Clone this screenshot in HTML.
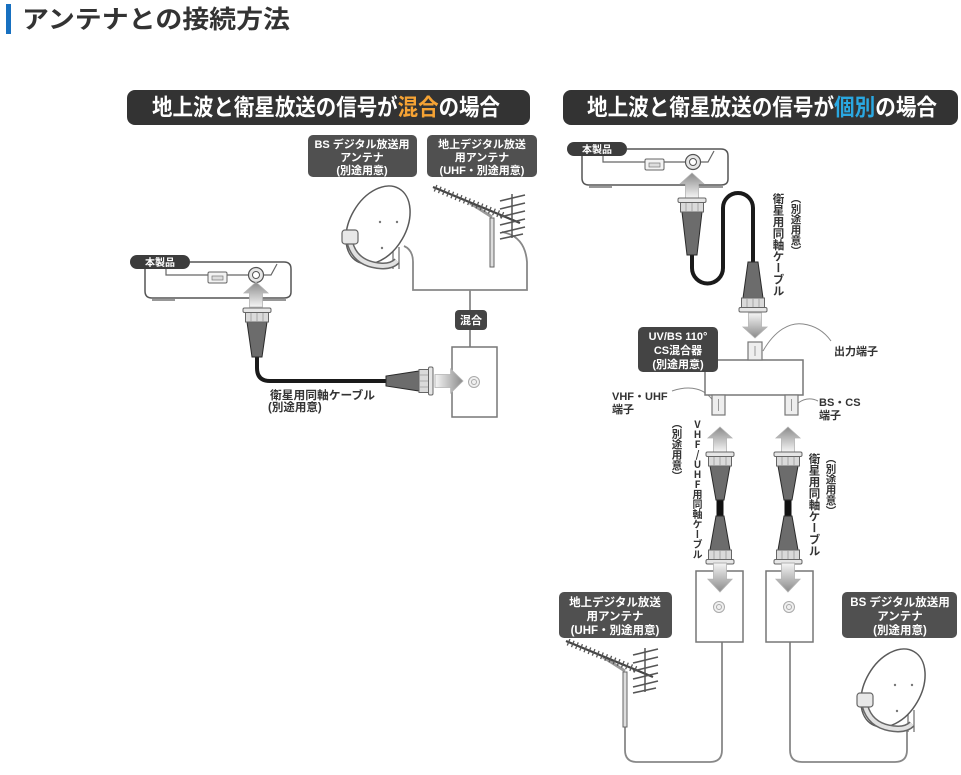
<!DOCTYPE html>
<html><head><meta charset="utf-8">
<style>
html,body{margin:0;padding:0;background:#fff}
body{width:961px;height:775px;overflow:hidden;position:relative;font-family:"Liberation Sans","Noto Sans CJK JP",sans-serif}
svg{position:absolute;left:0;top:0}
svg text{font-family:"Liberation Sans","Noto Sans CJK JP",sans-serif;font-weight:bold}
.v{position:absolute;writing-mode:vertical-rl;font-family:"Noto Sans CJK JP","Liberation Sans",sans-serif;font-weight:bold;color:#333;line-height:1;white-space:nowrap}
.up{text-orientation:upright}
</style></head><body>
<svg width="961" height="775" viewBox="0 0 961 775" xmlns="http://www.w3.org/2000/svg">
<defs>
<linearGradient id="ag" x1="0" y1="0" x2="0" y2="1">
<stop offset="0" stop-color="#8a8a8a"/><stop offset="1" stop-color="#f5f5f5"/>
</linearGradient>
<path id="arr" d="M0,0 L12,11 L6.5,11 L6.5,25 L-6.5,25 L-6.5,11 L-12,11 Z" fill="url(#ag)" stroke="#b3b3b3" stroke-width="0.8"/>
<g id="nut">
<rect x="-14" y="0" width="28" height="4.5" rx="1.5" fill="#e6e6e6" stroke="#666" stroke-width="1"/>
<rect x="-11.5" y="4.5" width="23" height="9.5" fill="#dadada" stroke="#666" stroke-width="1"/>
<path d="M-6,5 V14 M0,5 V14 M6,5 V14" stroke="#9a9a9a" stroke-width="0.8"/>
</g>
<g id="dish">
<path d="M15,24 V44 M21,22 V44" stroke="#777" stroke-width="1.3"/>
<ellipse cx="0" cy="0" rx="28" ry="42" transform="rotate(30)" fill="#fff" stroke="#5a5a5a" stroke-width="1.5"/>
<circle cx="2" cy="-3" r="1.2" fill="#777"/>
<circle cx="19" cy="-3" r="1.2" fill="#777"/>
<circle cx="4" cy="23" r="1.2" fill="#777"/>
<path d="M-28,18 Q-22,40 5,41 Q14,41 19,36" stroke="#666" stroke-width="7" fill="none"/>
<path d="M-28,18 Q-22,40 5,41 Q14,41 19,36" stroke="#e2e2e2" stroke-width="4" fill="none"/>
<rect x="-36" y="5" width="16" height="14" rx="3" fill="#e8e8e8" stroke="#666" stroke-width="1.2"/>
</g>
<g id="yagi">
<line x1="-22" y1="-15" x2="0" y2="-1" stroke="#999" stroke-width="3"/>
<line x1="-59" y1="-31" x2="28" y2="5" stroke="#444" stroke-width="2.2"/>
<line x1="-57" y1="-30" x2="12" y2="-2" stroke="#555" stroke-width="7" stroke-dasharray="1.3 3.2"/>
<line x1="20" y1="-24" x2="20" y2="20" stroke="#555" stroke-width="1.5"/>
<path d="M8,-17 L33,-23 M8,-9 L33,-15 M8,-1 L33,-7 M8,7 L33,1 M8,15 L33,9 M8,21 L31,16" stroke="#555" stroke-width="1.6"/>
</g>
<g id="dev">
<path d="M190,262 L284,262 Q291,262 291,269 L291,292 Q291,298 284,298 L152,298 Q145,298 145,291 L145,266" fill="#fff" stroke="#555" stroke-width="1.5"/>
<path d="M152,300 L175,300 M262,300 L286,300" stroke="#777" stroke-width="1.5"/>
<path d="M166,264 L166,275 L271,275 L277,264" fill="none" stroke="#666" stroke-width="1.2"/>
<rect x="208" y="272" width="19" height="11" rx="1.5" fill="#f3f3f3" stroke="#666" stroke-width="1"/>
<rect x="212" y="276" width="11" height="4" fill="#ddd" stroke="#777" stroke-width="0.7"/>
<circle cx="256" cy="275" r="7.5" fill="#e6e6e6" stroke="#555" stroke-width="1.2"/>
<circle cx="256" cy="275" r="3.5" fill="#fff" stroke="#555" stroke-width="1"/>
<rect x="130" y="255" width="60" height="14" rx="7" fill="#3c3c3c"/>
<text x="160" y="266" font-size="10" fill="#fff" text-anchor="middle">本製品</text>
</g>
</defs>

<!-- Title -->
<rect x="6" y="4" width="5" height="30" fill="#1770c0"/>
<text x="22" y="28" font-size="25" fill="#333" textLength="268" lengthAdjust="spacingAndGlyphs">アンテナとの接続方法</text>

<!-- Banners -->
<rect x="127" y="90" width="403" height="35" rx="8" fill="#333"/>
<text x="152" y="115" font-size="23" fill="#fff" textLength="348" lengthAdjust="spacingAndGlyphs">地上波と衛星放送の信号が<tspan fill="#f6a334">混合</tspan>の場合</text>
<rect x="563" y="90" width="395" height="35" rx="8" fill="#333"/>
<text x="587" y="115" font-size="23" fill="#fff" textLength="350" lengthAdjust="spacingAndGlyphs">地上波と衛星放送の信号が<tspan fill="#2aa8e2">個別</tspan>の場合</text>

<!-- LEFT DIAGRAM -->
<rect x="308" y="135" width="109" height="42" rx="5" fill="#505050"/>
<text x="362" y="148" font-size="11" fill="#fff" text-anchor="middle">BS デジタル放送用</text>
<text x="362" y="161" font-size="11" fill="#fff" text-anchor="middle">アンテナ</text>
<text x="362" y="174" font-size="11" fill="#fff" text-anchor="middle">(別途用意)</text>
<rect x="427" y="135" width="110" height="42" rx="5" fill="#505050"/>
<text x="482" y="148" font-size="11" fill="#fff" text-anchor="middle">地上デジタル放送</text>
<text x="482" y="161" font-size="11" fill="#fff" text-anchor="middle">用アンテナ</text>
<text x="482" y="174" font-size="11" fill="#fff" text-anchor="middle">(UHF・別途用意)</text>

<path d="M404,246 Q413,250 413,262 L413,290 L527,290 L527,262 Q525,236 502,232" fill="none" stroke="#888" stroke-width="1.8"/>
<use href="#dish" transform="translate(378,225)"/>
<use href="#yagi" transform="translate(492,218)"/>
<rect x="490" y="218" width="4" height="49" fill="#ddd" stroke="#666" stroke-width="1"/>

<path d="M470,290 V310 M470,330 V347" stroke="#888" stroke-width="1.8"/>
<rect x="455" y="310" width="32" height="20" rx="4" fill="#444"/>
<text x="471" y="324" font-size="11" fill="#fff" text-anchor="middle">混合</text>

<rect x="452" y="347" width="45" height="70" fill="#fff" stroke="#777" stroke-width="1.5"/>
<circle cx="474" cy="382" r="5.5" fill="#f0f0f0" stroke="#aaa" stroke-width="1"/>
<circle cx="474" cy="382" r="2.5" fill="none" stroke="#aaa" stroke-width="1"/>

<use href="#dev"/>
<use href="#arr" transform="translate(256,282)"/>
<path d="M257,355 L257,368 Q257,381 270,381 L390,381" fill="none" stroke="#1a1a1a" stroke-width="4"/>
<g transform="translate(257,308)"><path d="M-10,14 L10,14 L5,49 L-5,49 Z" fill="#6c6c6c" stroke="#2a2a2a" stroke-width="1"/><use href="#nut"/></g>
<g transform="translate(433,381) rotate(90)"><path d="M-10,14 L10,14 L5,47 L-5,47 Z" fill="#6c6c6c" stroke="#2a2a2a" stroke-width="1"/><use href="#nut"/></g>
<use href="#arr" transform="translate(463,381) rotate(90) scale(1,1.12)"/>

<text x="270" y="399" font-size="11.5" fill="#333" textLength="105" lengthAdjust="spacingAndGlyphs">衛星用同軸ケーブル</text>
<text x="268" y="411" font-size="11.5" fill="#333">(別途用意)</text>

<!-- RIGHT DIAGRAM -->
<use href="#dev" transform="translate(437,-113)"/>
<use href="#arr" transform="translate(692,173)"/>
<path d="M692,253 L692,268 A15.5,15.5 0 0 0 723,268 L723,208 A15,15 0 0 1 753,208 L753,266" fill="none" stroke="#1a1a1a" stroke-width="4"/>
<g transform="translate(692,198)"><path d="M-10,14 L10,14 L5,57 L-5,57 Z" fill="#6c6c6c" stroke="#2a2a2a" stroke-width="1"/><use href="#nut"/></g>
<g transform="translate(753,312) scale(1,-1)"><path d="M-10,14 L10,14 L5,50 L-5,50 Z" fill="#6c6c6c" stroke="#2a2a2a" stroke-width="1"/><use href="#nut"/></g>
<use href="#arr" transform="translate(755,338) rotate(180)"/>

<!-- splitter -->
<path d="M763,351 C775,330 790,322 803,324 C818,326 826,334 831,341" fill="none" stroke="#888" stroke-width="1"/>
<path d="M672,391 C690,385 705,388 714,402" fill="none" stroke="#888" stroke-width="1"/>
<path d="M798,403 C805,398 812,398 818,401" fill="none" stroke="#888" stroke-width="1"/>
<rect x="705" y="360" width="98" height="35" fill="#fff" stroke="#777" stroke-width="1.5"/>
<rect x="748" y="342" width="14" height="18" fill="#eee" stroke="#777" stroke-width="1.2"/>
<line x1="755" y1="346" x2="755" y2="356" stroke="#999" stroke-width="1"/>
<rect x="712" y="395" width="13" height="20" fill="#eee" stroke="#777" stroke-width="1.2"/>
<line x1="718.5" y1="399" x2="718.5" y2="411" stroke="#999" stroke-width="1"/>
<rect x="785" y="395" width="13" height="20" fill="#eee" stroke="#777" stroke-width="1.2"/>
<line x1="791.5" y1="399" x2="791.5" y2="411" stroke="#999" stroke-width="1"/>
<rect x="638" y="327" width="80" height="45" rx="5" fill="#444"/>
<text x="678" y="340" font-size="11" fill="#fff" text-anchor="middle">UV/BS 110°</text>
<text x="678" y="354" font-size="11" fill="#fff" text-anchor="middle">CS混合器</text>
<text x="678" y="368" font-size="11" fill="#fff" text-anchor="middle">(別途用意)</text>
<text x="834" y="355" font-size="11" fill="#333">出力端子</text>
<text x="612" y="400" font-size="11" fill="#333">VHF・UHF</text>
<text x="612" y="413" font-size="11" fill="#333">端子</text>
<text x="819" y="406" font-size="11" fill="#333">BS・CS</text>
<text x="819" y="419" font-size="11" fill="#333">端子</text>

<!-- vertical cables -->
<use href="#arr" transform="translate(720,427)"/>
<use href="#arr" transform="translate(788,427)"/>
<rect x="716.5" y="497" width="7" height="22" fill="#111"/>
<rect x="784.5" y="497" width="7" height="22" fill="#111"/>
<g transform="translate(720,452)"><path d="M-10,14 L10,14 L4,48 L-4,48 Z" fill="#6c6c6c" stroke="#2a2a2a" stroke-width="1"/><use href="#nut"/></g>
<g transform="translate(720,564) scale(1,-1)"><path d="M-10,14 L10,14 L4,48 L-4,48 Z" fill="#6c6c6c" stroke="#2a2a2a" stroke-width="1"/><use href="#nut"/></g>
<g transform="translate(788,452)"><path d="M-10,14 L10,14 L4,48 L-4,48 Z" fill="#6c6c6c" stroke="#2a2a2a" stroke-width="1"/><use href="#nut"/></g>
<g transform="translate(788,564) scale(1,-1)"><path d="M-10,14 L10,14 L4,48 L-4,48 Z" fill="#6c6c6c" stroke="#2a2a2a" stroke-width="1"/><use href="#nut"/></g>

<!-- wall plates -->
<path d="M722,642 L722,750 Q722,762 710,762 L637,762 Q625,762 625,750 L625,727" fill="none" stroke="#888" stroke-width="1.8"/>
<path d="M790,642 L790,750 Q790,762 802,762 L895,762 Q907,762 907,750 L907,730" fill="none" stroke="#888" stroke-width="1.8"/>
<rect x="696" y="571" width="47" height="71" fill="#fff" stroke="#777" stroke-width="1.5"/>
<rect x="766" y="571" width="47" height="71" fill="#fff" stroke="#777" stroke-width="1.5"/>
<circle cx="719" cy="607" r="5.5" fill="#f0f0f0" stroke="#aaa" stroke-width="1"/>
<circle cx="719" cy="607" r="2.5" fill="none" stroke="#aaa" stroke-width="1"/>
<circle cx="789" cy="607" r="5.5" fill="#f0f0f0" stroke="#aaa" stroke-width="1"/>
<circle cx="789" cy="607" r="2.5" fill="none" stroke="#aaa" stroke-width="1"/>
<use href="#arr" transform="translate(720,592) rotate(180) scale(1,1.16)"/>
<use href="#arr" transform="translate(788,592) rotate(180) scale(1,1.16)"/>

<!-- bottom antennas -->
<rect x="559" y="592" width="113" height="46" rx="5" fill="#505050"/>
<text x="615" y="606" font-size="11.5" fill="#fff" text-anchor="middle">地上デジタル放送</text>
<text x="615" y="620" font-size="11.5" fill="#fff" text-anchor="middle">用アンテナ</text>
<text x="615" y="634" font-size="11.5" fill="#fff" text-anchor="middle">(UHF・別途用意)</text>
<rect x="842" y="592" width="115" height="46" rx="5" fill="#505050"/>
<text x="900" y="606" font-size="11.5" fill="#fff" text-anchor="middle">BS デジタル放送用</text>
<text x="900" y="620" font-size="11.5" fill="#fff" text-anchor="middle">アンテナ</text>
<text x="900" y="634" font-size="11.5" fill="#fff" text-anchor="middle">(別途用意)</text>
<use href="#yagi" transform="translate(625,672)"/>
<rect x="623" y="672" width="4" height="55" fill="#ddd" stroke="#666" stroke-width="1"/>
<use href="#dish" transform="translate(893,688)"/>
</svg>

<div class="v" style="left:772px;top:193px;font-size:11.5px">衛星用同軸ケーブル</div>
<div class="v" style="left:790px;top:193px;font-size:10.5px">（別途用意）</div>
<div class="v up" style="left:692px;top:419px;font-size:10px">VHF/UHF用同軸ケーブル</div>
<div class="v" style="left:671px;top:418px;font-size:10.5px">（別途用意）</div>
<div class="v" style="left:808px;top:453px;font-size:11.5px">衛星用同軸ケーブル</div>
<div class="v" style="left:825px;top:453px;font-size:10.5px">（別途用意）</div>
</body></html>
